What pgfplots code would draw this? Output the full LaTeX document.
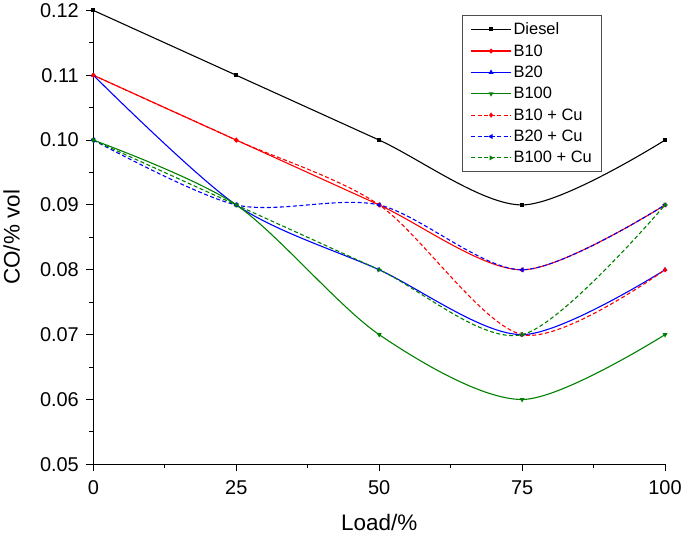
\documentclass[border=0pt]{standalone}
\usepackage{pgfplots}
\pgfplotsset{compat=1.18}
\usepackage{fontspec}
\setmainfont{Liberation Sans}
\definecolor{ogreen}{RGB}{0,128,0}
\begin{document}
\begin{tikzpicture}
\begin{axis}[
  scale only axis,
  width=573pt, height=455pt,
  xmin=0, xmax=100, ymin=0.05, ymax=0.12,
  axis x line*=bottom, axis y line*=left,
  axis line style={-, line width=1pt},
  tick align=outside,
  major tick length=7pt, minor tick length=4pt,
  tick style={black, line width=0.9pt},
  xtick={0,25,50,75,100},
  ytick={0.05,0.06,0.07,0.08,0.09,0.10,0.11,0.12},
  minor x tick num=1, minor y tick num=1,
  /pgf/number format/assume math mode=true,
  yticklabel style={/pgf/number format/fixed, /pgf/number format/fixed zerofill, /pgf/number format/precision=2, xshift=-4pt},
  xticklabel style={yshift=-6pt},
  ticklabel style={font=\fontsize{20}{23}\selectfont},
  xlabel={Load/\%}, ylabel={CO/\% vol},
  label style={font=\fontsize{22.5}{26}\selectfont},
  xlabel style={at={(axis description cs:0.5,-0.145)}, anchor=base},
  ylabel style={at={(axis description cs:-0.129,0.5)}, anchor=base, rotate=0},
  legend style={at={(0.89,0.989)}, anchor=north east, draw=black!70, line width=0.7pt,
    font=\fontsize{16.5}{19}\selectfont, row sep=4.4pt, inner xsep=8pt, inner ysep=5pt},
  legend cell align=left,
  legend image code/.code={\draw[mark repeat=2, mark phase=2, #1] plot coordinates {(0pt,0pt) (20pt,0pt) (40pt,0pt)};},
  every axis plot/.append style={line width=1.1pt, mark size=1.8pt, smooth},
]
\addplot[black, mark=square*, mark size=1.4pt] coordinates {(0,0.12) (25,0.11) (50,0.10) (75,0.09) (100,0.10)};
\addlegendentry{Diesel}
\addplot[red, mark=*] coordinates {(0,0.11) (25,0.10) (50,0.09) (75,0.08) (100,0.09)};
\addlegendentry{B10}
\addplot[blue, mark=triangle*] coordinates {(0,0.11) (25,0.09) (50,0.08) (75,0.07) (100,0.08)};
\addlegendentry{B20}
\addplot[ogreen, mark=triangle*, mark options={rotate=180}] coordinates {(0,0.10) (25,0.09) (50,0.07) (75,0.06) (100,0.07)};
\addlegendentry{B100}
\addplot[red, dash pattern=on 4pt off 2.5pt, mark=diamond*, mark options={solid}] coordinates {(0,0.11) (25,0.10) (50,0.09) (75,0.07) (100,0.08)};
\addlegendentry{B10 + Cu}
\addplot[blue, dash pattern=on 4pt off 2.5pt, mark=triangle*, mark options={solid, rotate=90}] coordinates {(0,0.10) (25,0.09) (50,0.09) (75,0.08) (100,0.09)};
\addlegendentry{B20 + Cu}
\addplot[ogreen, dash pattern=on 4pt off 2.5pt, mark=triangle*, mark options={solid, rotate=-90}] coordinates {(0,0.10) (25,0.09) (50,0.08) (75,0.07) (100,0.09)};
\addlegendentry{B100 + Cu}
\end{axis}
\end{tikzpicture}
\end{document}
